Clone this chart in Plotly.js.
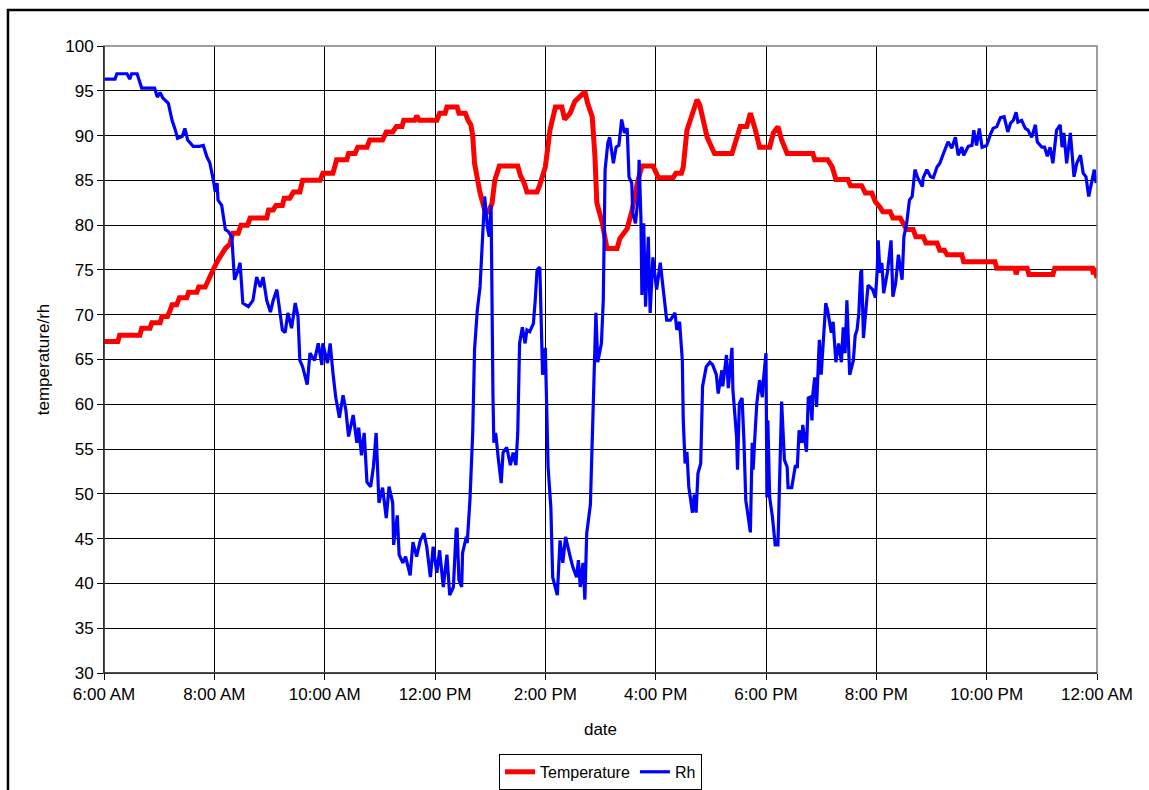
<!DOCTYPE html>
<html>
<head>
<meta charset="utf-8">
<script src="https://cdn.plot.ly/plotly-3.0.1.min.js"></script>
<style>html,body{margin:0;padding:0;background:#fff;}#chart{width:1149px;height:790px;}</style>
</head>
<body>
<div id="chart"></div>
<script>
// Minutes after 6:00 AM, and readings
const tempMinutes = [0,15,17,39,41,50,52,61,63,69,72,74,79,82,90,92,101,103,110,113,116,120,124,128,132,137,140,146,149,156,159,177,179,184,187,194,196,202,206,213,216,235,238,249,251,253,264,266,273,276,286,289,303,307,314,318,324,326,338,340,343,362,365,371,373,384,386,393,396,399,401,403,409,414,418,422,425,430,450,453,457,460,471,474,480,485,491,498,501,507,512,518,523,526,531,534,536,542,547,558,561,569,574,580,585,597,603,619,622,628,630,634,640,645,648,656,660,664,683,688,692,699,703,708,713,724,728,733,737,743,771,773,787,792,796,809,812,824,828,835,839,844,847,855,858,866,870,873,880,883,891,894,906,909,914,917,933,935,969,971,991,992,994,1004,1006,1032,1034,1075,1076,1077,1079,1080];
const temperature = [67.0,67.0,67.7,67.7,68.5,68.5,69.1,69.1,69.8,69.8,70.5,71.1,71.1,71.9,71.9,72.5,72.5,73.1,73.1,73.8,74.6,75.3,76.1,76.7,77.4,77.9,79.1,79.1,80.0,80.0,80.8,80.8,81.7,81.7,82.2,82.2,83.0,83.0,83.7,83.7,85.0,85.0,85.8,85.8,86.5,87.3,87.3,88.0,88.0,88.7,88.7,89.5,89.5,90.4,90.4,91.0,91.0,91.7,91.7,92.2,91.7,91.7,92.5,92.5,93.2,93.2,92.5,92.5,91.7,91.2,90.0,86.9,83.6,81.7,81.5,82.4,85.0,86.6,86.6,85.5,84.7,83.7,83.7,84.5,86.5,90.6,93.2,93.2,91.8,92.5,93.8,94.5,94.9,93.6,92.1,87.6,82.5,80.2,77.4,77.4,78.5,79.6,81.5,84.7,86.6,86.6,85.3,85.3,85.8,85.8,86.5,90.6,92.6,94.0,93.4,89.8,88.9,88.0,88.0,89.8,91.0,91.0,92.5,90.8,88.7,88.7,90.3,91.0,89.5,88.0,88.0,87.3,87.3,86.5,85.1,85.1,84.4,84.4,83.6,83.6,82.6,82.0,81.5,81.5,80.8,80.8,80.0,79.5,79.5,78.7,78.7,78.0,78.0,77.2,77.2,76.7,76.7,75.9,75.9,75.2,75.2,74.5,75.2,75.2,74.5,74.5,75.2,75.2,74.5,75.2,74.5,74.6];

const rhMinutes = [0,12,14,25,28,30,36,41,55,58,61,64,70,74,77,80,85,88,91,97,104,108,112,115,119,121,123,124,128,132,135,139,141,142,146,148,151,157,162,166,170,173,177,181,184,188,194,197,200,204,208,211,213,216,221,224,229,233,237,238,243,246,249,252,256,260,263,266,271,275,277,280,283,286,290,293,296,299,303,307,310,314,315,319,321,325,328,333,336,340,344,348,351,355,358,362,365,369,373,376,380,383,384,386,389,390,394,395,398,401,403,406,409,411,412,414,417,419,421,422,423,424,426,429,432,434,438,442,445,448,450,452,455,458,460,463,467,469,471,474,476,477,480,482,483,486,488,493,496,499,502,507,510,514,516,518,521,523,525,529,532,534,535,537,541,543,545,548,550,554,557,560,563,566,569,571,574,575,578,581,582,584,585,587,589,592,594,597,601,605,608,612,616,621,623,626,629,630,632,634,636,640,642,644,646,649,651,655,659,662,666,668,672,673,677,679,683,684,688,689,691,694,696,698,700,703,705,706,708,710,713,716,717,720,721,722,724,727,730,733,737,740,743,744,748,752,754,756,759,760,764,766,768,770,771,773,775,778,780,782,785,787,791,793,796,799,802,804,806,808,811,815,817,819,821,823,824,826,829,831,836,839,841,842,844,846,848,852,856,858,861,864,868,870,873,876,879,882,885,890,891,895,899,902,906,909,913,916,918,922,926,929,933,935,940,944,946,949,952,955,960,964,967,971,975,979,983,986,989,992,994,998,1002,1005,1009,1013,1015,1020,1023,1026,1029,1032,1036,1040,1042,1044,1047,1051,1053,1055,1058,1062,1065,1068,1071,1075,1077,1079];
const rh = [96.3,96.3,96.9,96.9,96.3,96.9,96.9,95.3,95.3,94.3,94.8,94.2,93.6,91.7,90.8,89.7,89.9,90.8,89.5,88.8,88.8,88.9,87.6,87.0,85.0,83.7,84.7,82.8,82.2,79.5,79.3,78.7,75.4,73.9,75.0,75.8,71.3,70.9,71.6,74.2,73.1,74.2,71.6,70.3,71.6,72.8,68.3,68.0,70.2,68.5,71.3,69.8,64.9,64.2,62.2,65.7,64.9,66.8,64.4,66.8,64.6,66.8,63.5,60.8,58.5,61.0,59.4,56.4,58.8,55.7,57.4,54.3,56.8,51.3,50.8,53.0,56.8,49.0,50.7,47.3,50.8,49.0,44.3,47.6,43.2,42.3,43.0,40.9,44.6,43.0,44.8,45.6,44.1,40.7,44.1,41.2,43.7,39.6,43.2,38.7,39.6,46.0,46.2,40.4,39.6,43.4,45.2,44.5,49.3,56.8,66.1,70.5,73.1,77.2,80.2,83.2,79.8,78.7,82.2,67.2,61.2,55.7,56.8,53.8,51.2,54.6,55.2,53.2,54.6,53.2,56.8,66.8,68.6,66.8,68.3,68.1,69.0,71.6,75.0,75.3,68.3,63.3,66.3,58.6,53.0,48.5,40.7,38.7,44.8,42.3,45.2,43.0,41.8,40.7,42.6,39.6,42.3,38.2,45.6,48.8,59.7,65.3,70.2,64.7,66.8,71.6,86.2,89.2,89.8,86.9,88.7,88.9,91.8,90.3,90.8,85.4,84.7,81.4,80.2,83.2,87.3,80.6,72.2,80.2,70.9,78.7,70.2,76.4,72.8,75.8,73.1,69.4,69.4,70.2,68.3,69.2,64.9,58.2,53.4,54.7,50.8,47.9,49.9,47.9,52.3,53.4,62.0,64.2,64.7,64.4,63.3,61.2,63.8,62.0,65.5,61.8,66.3,61.6,56.4,52.7,60.1,60.7,56.0,49.3,47.9,45.7,55.7,52.7,56.6,60.1,62.7,60.8,62.5,65.7,49.6,58.2,49.6,47.4,44.3,44.3,60.3,53.8,53.0,50.7,50.7,53.2,52.9,57.1,55.7,57.7,54.7,60.7,60.8,58.2,61.2,63.0,59.7,67.2,63.3,66.4,71.3,70.5,68.0,69.2,64.7,66.8,64.7,68.6,65.7,71.6,63.3,64.9,67.7,68.3,70.2,74.7,75.0,67.4,71.3,73.3,72.8,71.9,75.0,78.3,74.7,75.8,72.4,74.7,78.3,72.0,73.5,76.7,73.9,78.7,80.2,82.8,83.2,86.2,85.3,84.3,85.3,86.2,85.4,85.3,86.5,86.9,88.0,88.7,89.3,88.6,89.8,87.8,88.7,87.8,88.8,88.9,90.6,88.9,90.8,88.7,88.9,90.1,90.8,91.0,92.0,92.1,90.4,91.4,91.7,92.6,91.5,91.7,90.8,90.6,89.8,91.2,89.3,88.7,88.7,87.7,88.7,86.9,90.6,91.2,88.7,90.3,86.9,90.3,87.6,85.4,86.9,87.8,85.8,85.4,83.2,85.0,86.2,84.7];

const tickHours = [6,8,10,12,14,16,18,20,22,24];
const yTicks = [30,35,40,45,50,55,60,65,70,75,80,85,90,95,100];

function pad(n){return (n<10?'0':'')+n;}
function minToDate(m){
  const t = 360 + m;
  const h = Math.floor(t/60), mm = Math.round(t - h*60);
  const day = h >= 24 ? '02' : '01';
  return '2000-01-' + day + ' ' + pad(h % 24) + ':' + pad(mm);
}
function hourToDate(h){ return minToDate((h-6)*60); }

const traces = [
  {x: tempMinutes.map(minToDate), y: temperature, type:'scatter', mode:'lines', name:'Temperature',
   line:{color:'#ff0000', width:5}},
  {x: rhMinutes.map(minToDate), y: rh, type:'scatter', mode:'lines', name:'Rh',
   line:{color:'#0000ff', width:3.2}}
];

const font = 'Liberation Sans, Arial, sans-serif';
const fs = 17;
const layout = {
  width:1149, height:790,
  margin:{l:104, r:52, t:46, b:117, autoexpand:false},
  paper_bgcolor:'#fff', plot_bgcolor:'#fff',
  font:{family:font, size:fs, color:'#000'},
  showlegend:true,
  hovermode:false,
  xaxis:{
    type:'date',
    range:[hourToDate(6), hourToDate(24)],
    tickvals: tickHours.map(hourToDate),
    tickformat:'%-I:%M %p',
    showgrid:true, gridcolor:'#000', gridwidth:1,
    showline:true, linecolor:'#000', linewidth:1,
    ticks:'outside', ticklen:6, tickcolor:'#000',
    zeroline:false, automargin:false,
    tickfont:{family:font, size:fs, color:'#000'},
    title:{text:'date', font:{family:font, size:fs, color:'#000'}, standoff:19}
  },
  yaxis:{
    range:[30,100],
    tickvals:yTicks,
    showgrid:true, gridcolor:'#000', gridwidth:1,
    showline:true, linecolor:'#000', linewidth:1,
    ticks:'outside', ticklen:6, tickcolor:'#000',
    zeroline:false, automargin:false,
    tickfont:{family:font, size:fs, color:'#000'},
    title:{text:'temperature/rh', font:{family:font, size:fs, color:'#000'}, standoff:11}
  },
  legend:{
    orientation:'h', x:0.5, xanchor:'center', y:-0.129, yanchor:'top',
    bordercolor:'#000', borderwidth:1, bgcolor:'#fff',
    font:{family:font, size:16, color:'#000'},
    tracegroupgap:0
  },
  shapes:[
    {type:'rect', xref:'paper', yref:'paper', x0:0, x1:1, y0:0, y1:1, line:{color:'#808080', width:1.5}, layer:'above'},
    {type:'line', xref:'paper', yref:'paper', x0:0, x1:0, y0:0, y1:1, line:{color:'#000', width:1}, layer:'above'},
    {type:'line', xref:'paper', yref:'paper', x0:0, x1:1, y0:0, y1:0, line:{color:'#000', width:1}, layer:'above'},
    {type:'rect', xref:'paper', yref:'paper', x0:-0.0967, x1:1.2, y0:-0.3, y1:1.0574, line:{color:'#000', width:2.5}}
  ]
};

Plotly.newPlot('chart', traces, layout, {staticPlot:true, displayModeBar:false});
</script>
</body>
</html>
